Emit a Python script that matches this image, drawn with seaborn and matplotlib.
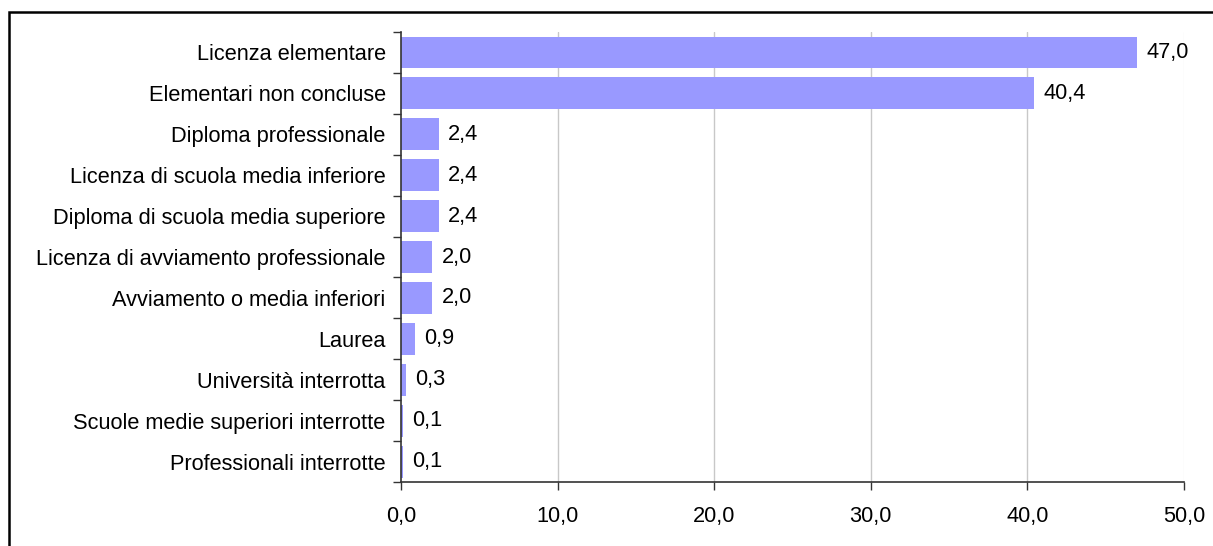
import matplotlib
matplotlib.use("Agg")
import matplotlib.pyplot as plt
from matplotlib.patches import Rectangle
import seaborn as sns
import pandas as pd
import numpy as np

categories = [
    "Licenza elementare",
    "Elementari non concluse",
    "Diploma professionale",
    "Licenza di scuola media inferiore",
    "Diploma di scuola media superiore",
    "Licenza di avviamento professionale",
    "Avviamento o media inferiori",
    "Laurea",
    "Università interrotta",
    "Scuole medie superiori interrotte",
    "Professionali interrotte",
]
values = [47.0, 40.4, 2.4, 2.4, 2.4, 2.0, 2.0, 0.9, 0.3, 0.1, 0.1]
x_ticks = [0, 10, 20, 30, 40, 50]

df = pd.DataFrame({"categoria": categories, "valore": values})

sns.set_style("white")
plt.rcParams["font.family"] = ["Liberation Sans", "DejaVu Sans"]
plt.rcParams["text.color"] = "black"
plt.rcParams["xtick.labelcolor"] = "black"
plt.rcParams["ytick.labelcolor"] = "black"

W, H, DPI = 1213, 546, 100
fig = plt.figure(figsize=(W / DPI, H / DPI), dpi=DPI)
ax = fig.add_axes([401 / W, 1 - 482 / H, (1184 - 401) / W, (482 - 32) / H])

sns.barplot(data=df, y="categoria", x="valore", orient="h", color="#9999FF",
            saturation=1, width=0.78, edgecolor="none", ax=ax, zorder=2)

fs = 15.7
ax.set_xlim(0, 50)
ax.set_ylim(len(categories) - 0.5, -0.5)
ax.set_xlabel("")
ax.set_ylabel("")

# x axis
ax.set_xticks(x_ticks)
ax.set_xticklabels([f"{t:.1f}".replace(".", ",") for t in x_ticks], fontsize=fs)
ax.tick_params(axis="x", direction="out", length=6, width=1, color="#333333",
               pad=11, bottom=True, labelcolor="black")

# y axis: labels at bar centres, ticks at category boundaries
ax.set_yticks(np.arange(-0.5, len(categories), 1.0))
ax.set_yticklabels([])
ax.set_yticks(np.arange(len(categories)), minor=True)
ax.set_yticklabels(categories, minor=True, fontsize=fs)
ax.tick_params(axis="y", which="major", direction="out", length=6, width=1,
               color="#333333", left=True)
ax.tick_params(axis="y", which="minor", length=0, pad=11, labelcolor="black")

# vertical gridlines
for t in x_ticks[1:]:
    ax.axvline(t, color="#C8C8C8" if t < 50 else "#F2F2F2", lw=1, zorder=1)

for side in ["top", "right"]:
    ax.spines[side].set_visible(False)
for side in ["left", "bottom"]:
    ax.spines[side].set_color("#333333")
    ax.spines[side].set_linewidth(1.2)
    ax.spines[side].set_zorder(3)

# value labels
for i, v in enumerate(values):
    ax.text(v + 0.6, i, f"{v:.1f}".replace(".", ","), va="center", ha="left",
            fontsize=fs, color="black")

# outer frame
fig.patches.append(Rectangle((9.3 / W, -0.1), 2.0, 1.1 - 11.7 / H,
                             transform=fig.transFigure, fill=False,
                             edgecolor="black", linewidth=1.8))

fig.savefig("out.png", dpi=DPI)
